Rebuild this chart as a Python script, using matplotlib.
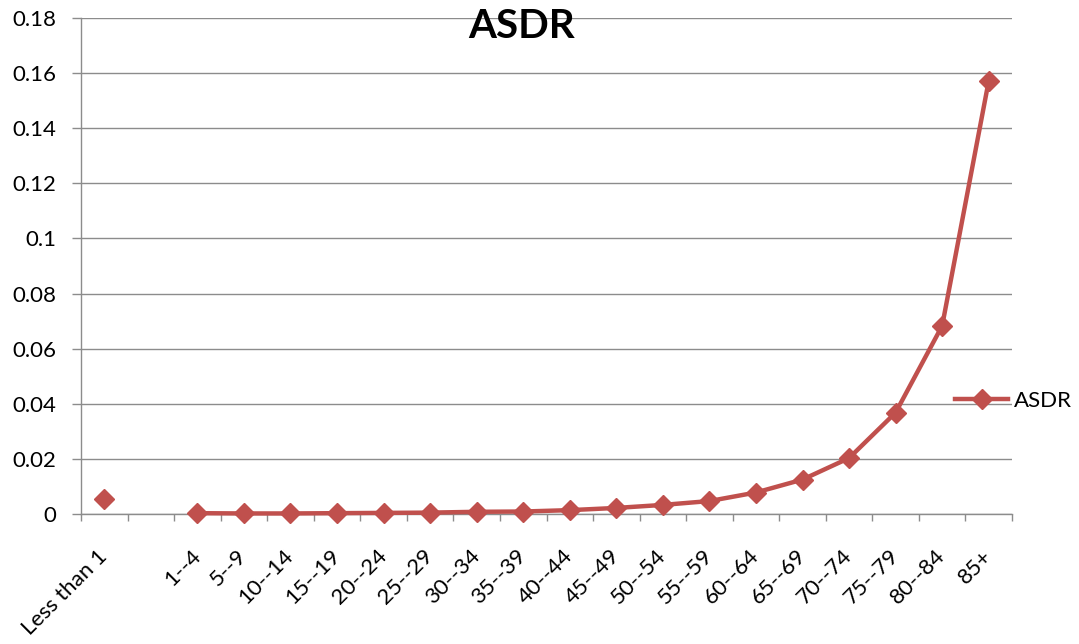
import numpy as np
import matplotlib
matplotlib.use("Agg")
import matplotlib.pyplot as plt

plt.rcParams["font.family"] = ["Lato", "DejaVu Sans"]

# age groups; the blank slot between "Less than 1" and "1--4" has no value
age_groups = ["Less than 1", "", "1--4", "5--9", "10--14", "15--19", "20--24",
              "25--29", "30--34", "35--39", "40--44", "45--49", "50--54",
              "55--59", "60--64", "65--69", "70--74", "75--79", "80--84", "85+"]
asdr = [0.0053, np.nan, 0.0003, 0.0002, 0.0002, 0.0003, 0.0004,
        0.0005, 0.0008, 0.0009, 0.0014, 0.0022, 0.0033,
        0.0047, 0.0078, 0.0125, 0.0203, 0.0368, 0.0683, 0.1572]
y_ticks = [0, 0.02, 0.04, 0.06, 0.08, 0.1, 0.12, 0.14, 0.16, 0.18]
y_labels = ["0", "0.02", "0.04", "0.06", "0.08", "0.1", "0.12", "0.14", "0.16", "0.18"]

red = "#C0504D"
grid = "#8C8C8C"
fs = 16

fig = plt.figure(figsize=(10.79, 6.44), dpi=100)
ax = fig.add_axes([81 / 1079, 1 - 514 / 644, (1012 - 81) / 1079, (514 - 18) / 644])

x = np.arange(len(age_groups))
ln, = ax.plot(x, asdr, color=red, lw=3.2, marker="D", ms=10, mec=red, mfc=red,
              label="ASDR", zorder=3, clip_on=False)

ax.set_xlim(-0.5, len(age_groups) - 0.5)
ax.set_ylim(0, 0.18)
ax.set_yticks(y_ticks)
ax.set_yticklabels(y_labels)
ax.yaxis.grid(True, color=grid, lw=1)
ax.set_axisbelow(True)

# tick marks sit between categories, labels at the centres
ax.set_xticks(np.arange(-0.5, len(age_groups)), labels=[""] * (len(age_groups) + 1))
ax.set_xticks(x, labels=age_groups, minor=True)
ax.tick_params(axis="x", which="major", length=5, color=grid, width=1, direction="out")
ax.tick_params(axis="x", which="minor", length=0, pad=28, labelsize=fs)
ax.tick_params(axis="y", length=6.5, color=grid, width=1, labelsize=fs, pad=11)
for lab in ax.get_xticklabels(minor=True):
    lab.set_rotation(45)
    lab.set_ha("right")
    lab.set_va("center")
    lab.set_rotation_mode("anchor")

for side in ["top", "right"]:
    ax.spines[side].set_visible(False)
for side in ["left", "bottom"]:
    ax.spines[side].set_color(grid)
    ax.spines[side].set_linewidth(1)

fig.text(522 / 1079, 1 - 26 / 644, "ASDR", fontsize=29, fontweight="bold",
         ha="center", va="center")

fig.legend(handles=[ln], loc="center left", frameon=False, fontsize=fs,
           bbox_to_anchor=(946 / 1079, 1 - 401 / 644), handlelength=2.4,
           handletextpad=0.25, borderaxespad=0)

fig.savefig("out.png", dpi=100)
